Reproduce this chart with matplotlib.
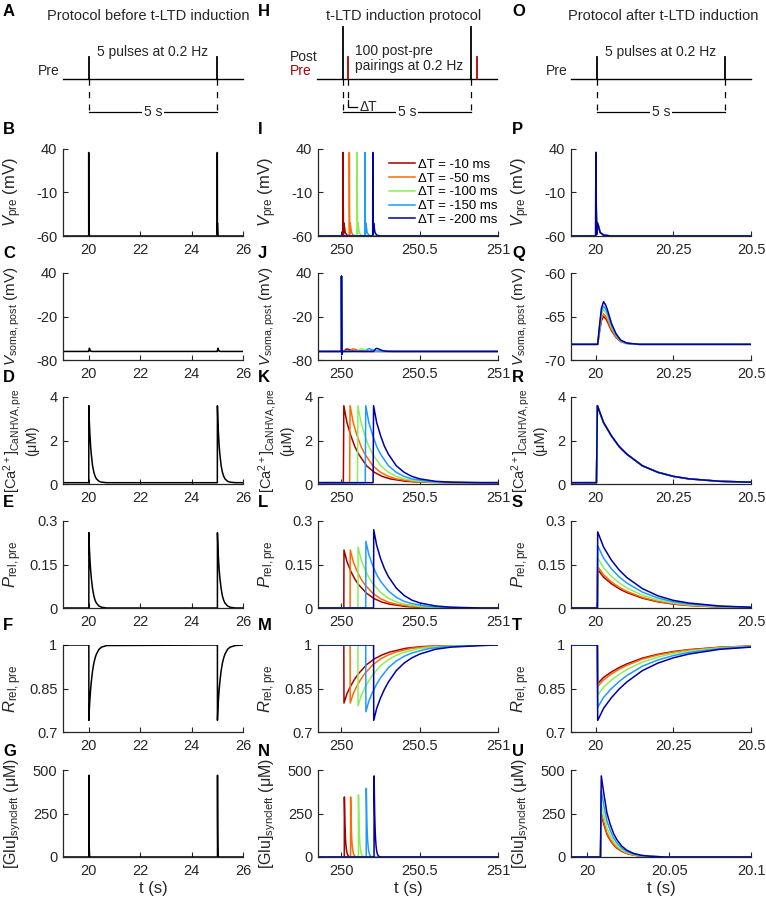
import numpy as np
import matplotlib
matplotlib.use("Agg")
import matplotlib.pyplot as plt
from matplotlib.lines import Line2D

plt.rcParams['font.family'] = ['Liberation Sans', 'DejaVu Sans']
plt.rcParams['mathtext.fontset'] = 'custom'
plt.rcParams['mathtext.rm'] = 'Liberation Sans'
plt.rcParams['mathtext.it'] = 'Liberation Sans:italic'
plt.rcParams['mathtext.bf'] = 'Liberation Sans:bold'

GREY = (0.15, 0.15, 0.15)

# ---------------- data ----------------
dT_ms = [-10, -50, -100, -150, -200]
colors = ['#a30000', '#ff6a00', '#8cef5a', '#1e9bff', '#0000a3']

# protocol sketches
pulse_times = [0, 5]
pair_delay = 0.22

# spike times
spikes_before = [20, 25]
post_time_mid = 250.0
pre_times_mid = [250.01, 250.05, 250.10, 250.15, 250.20]
pre_time_after = 20.0

# resting values
v_pre_rest = -60
v_post_rest = -68.2
ca_rest = 0.06

# shapes (time offset from spike in s, value relative to rest)
ap_t = [-0.0005, 0, 0.0015, 0.003, 0.005, 0.008, 0.014, 0.025, 0.05]
ap_dv = [0, 96, 30, 2, 15, 12, 4, 1, 0]
post_ap_t = [-0.0005, 0, 0.0015, 0.003, 0.005, 0.008]
post_ap_dv = [0, 104, 38, -4, -1, 0]
epsp_t = [0, 0.006, 0.012, 0.018, 0.025, 0.032, 0.04, 0.05, 0.065, 0.08, 0.1, 0.14]
epsp_f = [0, 0, 0.45, 0.85, 1.0, 0.92, 0.75, 0.5, 0.25, 0.1, 0.03, 0]
ca_t = [0.002, 0.005, 0.025, 0.05, 0.075, 0.1, 0.15, 0.2, 0.25, 0.3, 0.4, 0.5, 0.7]
ca_f = [0, 1, 0.78, 0.61, 0.47, 0.37, 0.22, 0.135, 0.082, 0.05, 0.018, 0.007, 0.0]
p_t = [0.005, 0.006, 0.025, 0.05, 0.075, 0.1, 0.15, 0.2, 0.25, 0.3, 0.4, 0.5, 0.7]
p_f = [0, 1, 0.8, 0.63, 0.5, 0.40, 0.255, 0.16, 0.10, 0.065, 0.026, 0.01, 0]
r_t = [0.005, 0.006, 0.025, 0.05, 0.075, 0.1, 0.15, 0.2, 0.25, 0.3, 0.4, 0.5, 0.7]
r_f = [0, 1, 0.84, 0.70, 0.585, 0.49, 0.34, 0.24, 0.17, 0.12, 0.057, 0.028, 0.007]
glu_t = [0.008, 0.0085, 0.010, 0.012, 0.014, 0.016, 0.018, 0.021, 0.024, 0.028, 0.033, 0.038, 0.048]
glu_f = [0, 1, 0.79, 0.54, 0.40, 0.29, 0.215, 0.135, 0.085, 0.046, 0.021, 0.01, 0]

# amplitudes before induction (black)
ca_peak_before = 3.6
p_peak_before = 0.26
r_min_before = 0.74
glu_peak_before = 470
epsp_peak_before = -63.8

# amplitudes during induction (one per dT)
ca_peak_mid = [3.6, 3.6, 3.6, 3.6, 3.6]
p_peak_mid = [0.20, 0.20, 0.21, 0.23, 0.27]
r_min_mid = [0.80, 0.80, 0.79, 0.77, 0.74]
glu_peak_mid = [345, 345, 357, 395, 466]
epsp_peak_mid = [-64.8, -64.6, -64.5, -64.3, -64.0]

# amplitudes after induction (one per dT)
ca_peak_after = [3.6, 3.6, 3.6, 3.6, 3.6]
p_peak_after = [0.133, 0.143, 0.173, 0.215, 0.2625]
r_min_after = [0.867, 0.857, 0.827, 0.785, 0.74]
glu_peak_after = [240, 255, 307, 380, 466]
epsp_peak_after = [-65.0, -64.7, -64.2, -63.8, -63.3]

# axes settings
col_xlim = [(19, 26), (249.85, 251), (19.92, 20.5)]
col_xticks = [[20, 22, 24, 26], [250, 250.5, 251], [20, 20.25, 20.5]]
col_xticklabels = [['20', '22', '24', '26'], ['250', '250.5', '251'], ['20', '20.25', '20.5']]
glu_after_xlim = (19.99, 20.1)
glu_after_xticks = [20, 20.05, 20.1]
glu_after_xticklabels = ['20', '20.05', '20.1']

row_ylim = [(-60, 40), (-80, 40), (0, 4), (0, 0.3), (0.7, 1), (0, 500)]
row_yticks = [[-60, -10, 40], [-80, -20, 40], [0, 2, 4], [0, 0.15, 0.3], [0.7, 0.85, 1], [0, 250, 500]]
row_yticklabels = [['-60', '-10', '40'], ['-80', '-20', '40'], ['0', '2', '4'],
                   ['0', '0.15', '0.3'], ['0.7', '0.85', '1'], ['0', '250', '500']]
vpost_after_ylim = (-70, -60)
vpost_after_yticks = [-70, -65, -60]
row_ylabels = [r'$V_{\rm pre}$ (mV)', r'$V_{\rm soma,post}$ (mV)',
               '[Ca$^{2+}$]$_{\\rm CaNHVA,pre}$\n(μM)', r'$P_{\rm rel,pre}$',
               r'$R_{\rm rel,pre}$', r'[Glu]$_{\rm syncleft}$ (μM)']
ylabel_size = [12, 11, 10.5, 12, 12, 11.5]
ylabel_x = [-0.28, -0.28, -0.24, -0.28, -0.28, -0.28]
letters = ['ABCDEFG', 'HIJKLMN', 'OPQRSTU']


def build(events, base, xlim):
    t = [xlim[0]]
    y = [base]
    for on, sh_t, sh_f, amp in events:
        for s, f in zip(sh_t, sh_f):
            t.append(on + s)
            y.append(base + amp * f)
    t.append(max(xlim[1], t[-1]))
    y.append(base)
    return t, y


# ---------------- layout ----------------
W, H = 766, 900
fig = plt.figure(figsize=(W / 100, H / 100), dpi=100)
col_left = [63, 318, 571]
row_top = [149, 273, 397, 521, 645, 770]
AW, AH = 180, 87


def px_axes(l, t, w, h):
    return fig.add_axes([l / W, 1 - (t + h) / H, w / W, h / H])


axes = [[px_axes(col_left[c], row_top[r], AW, AH) for r in range(6)] for c in range(3)]

for c in range(3):
    for r in range(6):
        ax = axes[c][r]
        for s in ['top', 'right']:
            ax.spines[s].set_visible(False)
        for s in ['left', 'bottom']:
            ax.spines[s].set_color(GREY)
            ax.spines[s].set_linewidth(0.9)
        ax.tick_params(direction='in', length=3.5, width=0.8, color=GREY,
                       labelcolor=GREY, labelsize=10.5)
        ax.tick_params(axis='x', pad=5)
        ax.tick_params(axis='y', pad=4)
        if c == 2 and r == 5:
            ax.set_xlim(glu_after_xlim)
            ax.set_xticks(glu_after_xticks, glu_after_xticklabels)
        else:
            ax.set_xlim(col_xlim[c])
            ax.set_xticks(col_xticks[c], col_xticklabels[c])
        if c == 2 and r == 1:
            ax.set_ylim(vpost_after_ylim)
            ax.set_yticks(vpost_after_yticks, [str(v) for v in vpost_after_yticks])
        else:
            ax.set_ylim(row_ylim[r])
            ax.set_yticks(row_yticks[r], row_yticklabels[r])
        ax.set_ylabel(row_ylabels[r], fontsize=ylabel_size[r], color=GREY,
                      multialignment='center', linespacing=1.1)
        ax.yaxis.set_label_coords(ylabel_x[r], 0.5)
        ax.yaxis.label.set_verticalalignment('center')
        if r == 5:
            ax.set_xlabel('t (s)', fontsize=12, color=GREY, labelpad=2)
        fig.text([3, 258, 512][c] / W, 1 - (row_top[r] - 19) / H, letters[c][r + 1],
                 fontsize=12, fontweight='bold', ha='left', va='center')
    fig.text([3, 258, 512][c] / W, 1 - 12 / H, letters[c][0],
             fontsize=12, fontweight='bold', ha='left', va='center')

LW = 1.1

# ---------------- column 1: before induction ----------------
xl = col_xlim[0]
a = axes[0]
t, y = build([(s, ap_t, ap_dv, 1) for s in spikes_before], v_pre_rest, xl)
a[0].plot(t, y, color='k', lw=LW)
t, y = build([(s, epsp_t, epsp_f, epsp_peak_before - v_post_rest) for s in spikes_before], v_post_rest, xl)
a[1].plot(t, y, color='k', lw=LW)
t, y = build([(s, ca_t, ca_f, ca_peak_before - ca_rest) for s in spikes_before], ca_rest, xl)
a[2].plot(t, y, color='k', lw=LW)
t, y = build([(s, p_t, p_f, p_peak_before) for s in spikes_before], 0, xl)
a[3].plot(t, y, color='k', lw=LW)
t, y = build([(s, r_t, r_f, r_min_before - 1) for s in spikes_before], 1, xl)
a[4].plot(t, y, color='k', lw=LW)
t, y = build([(s, glu_t, glu_f, glu_peak_before) for s in spikes_before], 0, xl)
a[5].plot(t, y, color='k', lw=LW)

# ---------------- column 2: during induction ----------------
xl = col_xlim[1]
a = axes[1]
for i in range(5):
    tp = pre_times_mid[i]
    col = colors[i]
    t, y = build([(tp, ap_t, ap_dv, 1)], v_pre_rest, xl)
    a[0].plot(t, y, color=col, lw=LW)
    t, y = build([(post_time_mid, post_ap_t, post_ap_dv, 1),
                  (tp, epsp_t, epsp_f, epsp_peak_mid[i] - v_post_rest)], v_post_rest, xl)
    a[1].plot(t, y, color=col, lw=LW)
    t, y = build([(tp, ca_t, ca_f, ca_peak_mid[i] - ca_rest)], ca_rest, xl)
    a[2].plot(t, y, color=col, lw=LW)
    t, y = build([(tp, p_t, p_f, p_peak_mid[i])], 0, xl)
    a[3].plot(t, y, color=col, lw=LW)
    t, y = build([(tp, r_t, r_f, r_min_mid[i] - 1)], 1, xl)
    a[4].plot(t, y, color=col, lw=LW)
    t, y = build([(tp, glu_t, glu_f, glu_peak_mid[i])], 0, xl)
    a[5].plot(t, y, color=col, lw=LW)

handles = [Line2D([], [], color=c, lw=LW) for c in colors]
labels = ['ΔT = %d ms' % d for d in dT_ms]
a[0].legend(handles, labels, loc='upper right', bbox_to_anchor=(1.0, 0.89),
            frameon=False, fontsize=9.5, handlelength=1.9, handletextpad=0.3,
            labelspacing=0.12, borderaxespad=0, borderpad=0)

# ---------------- column 3: after induction ----------------
xl = col_xlim[2]
a = axes[2]
tp = pre_time_after
for i in range(5):
    col = colors[i]
    t, y = build([(tp, ap_t, ap_dv, 1)], v_pre_rest, xl)
    a[0].plot(t, y, color=col, lw=LW)
    t, y = build([(tp, epsp_t, epsp_f, epsp_peak_after[i] - v_post_rest)], v_post_rest, xl)
    a[1].plot(t, y, color=col, lw=LW)
    t, y = build([(tp, ca_t, ca_f, ca_peak_after[i] - ca_rest)], ca_rest, xl)
    a[2].plot(t, y, color=col, lw=LW)
    t, y = build([(tp, p_t, p_f, p_peak_after[i])], 0, xl)
    a[3].plot(t, y, color=col, lw=LW)
    t, y = build([(tp, r_t, r_f, r_min_after[i] - 1)], 1, xl)
    a[4].plot(t, y, color=col, lw=LW)
    t, y = build([(tp, glu_t, glu_f, glu_peak_after[i])], 0, glu_after_xlim)
    a[5].plot(t, y, color=col, lw=LW)

# ---------------- protocol sketches ----------------
titles = ['Protocol before t-LTD induction', 't-LTD induction protocol',
          'Protocol after t-LTD induction']
title_x = [2.31, 2.35, 2.58]
proto_left = [63, 317, 571]
RED = '#b00000'
for c in range(3):
    p = px_axes(proto_left[c], 0, 180, 125)
    p.set_xlim(-1, 6)
    p.set_ylim(125, 0)
    p.axis('off')
    p.text(title_x[c], 16, titles[c], fontsize=10.5, ha='center', va='center',
           color=GREY, clip_on=False)
    p.plot([-1, 6], [79, 79], color='k', lw=1.0, clip_on=False)
    p.plot(pulse_times, [112, 112], color='k', lw=0.9)
    p.text(np.mean(pulse_times), 112, '5 s', fontsize=10, ha='center', va='center',
           color=GREY, bbox=dict(facecolor='white', edgecolor='none', pad=1.0))
    for pt in pulse_times:
        p.plot([pt, pt], [79, 110], color='k', lw=0.9, ls=(0, (5, 5)))
    if c == 1:
        for pt in pulse_times:
            p.plot([pt, pt], [27, 79], color='k', lw=1.3)
            p.plot([pt + pair_delay, pt + pair_delay], [57, 79], color=RED, lw=1.3)
        p.plot([pair_delay, pair_delay], [79, 106], color='k', lw=0.9, ls=(0, (5, 5)))
        p.plot([pair_delay, pair_delay, pair_delay + 0.35], [100, 107, 107], color='k', lw=0.9)
        p.text(pair_delay + 0.42, 107, 'ΔT', fontsize=10, ha='left', va='center', color=GREY)
        p.text(-2.05, 57, 'Post', fontsize=10, ha='left', va='center', color=GREY, clip_on=False)
        p.text(-2.05, 71, 'Pre', fontsize=10, ha='left', va='center', color=RED, clip_on=False)
        p.text(0.48, 51, '100 post-pre', fontsize=10, ha='left', va='center', color=GREY)
        p.text(0.48, 66, 'pairings at 0.2 Hz', fontsize=10, ha='left', va='center', color=GREY)
    else:
        for pt in pulse_times:
            p.plot([pt, pt], [57, 79], color='k', lw=1.3)
        p.text(-1.12, 71, 'Pre', fontsize=10, ha='right', va='center', color=GREY, clip_on=False)
        p.text(np.mean(pulse_times), 52, '5 pulses at 0.2 Hz', fontsize=10, ha='center',
               va='center', color=GREY)

fig.savefig('out.png', dpi=100)
